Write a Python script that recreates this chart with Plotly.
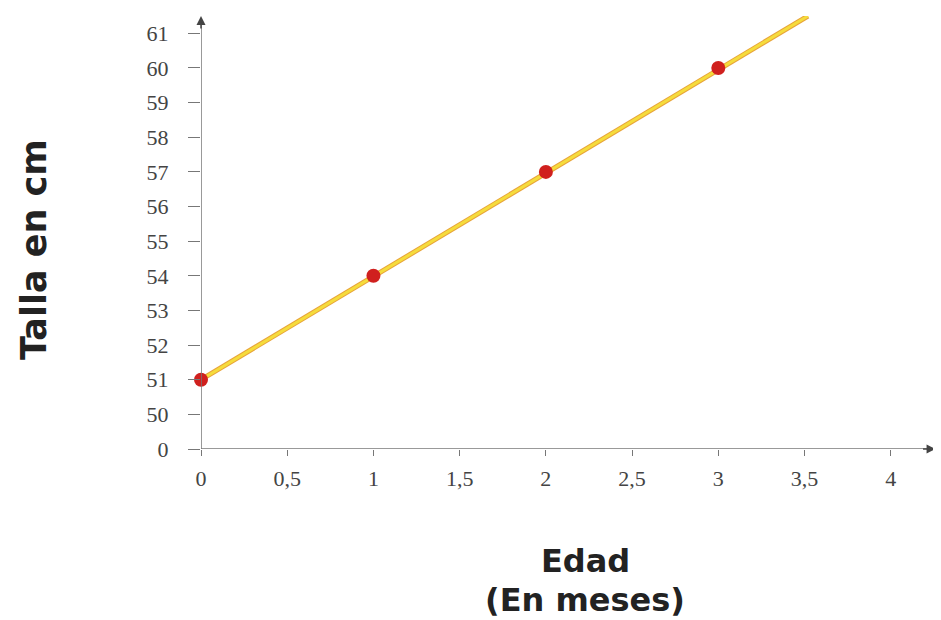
import plotly.graph_objects as go

# datos: edad (meses) y talla (cm)
edad = [0, 1, 2, 3]
talla = [51, 54, 57, 60]

# recta de ajuste
recta_x = [0, 3.52]
recta_y = [51, 61.5]

x_ticks = [0, 0.5, 1, 1.5, 2, 2.5, 3, 3.5, 4]
x_labels = ["0", "0,5", "1", "1,5", "2", "2,5", "3", "3,5", "4"]
y_labels = ["0", "50", "51", "52", "53", "54", "55", "56", "57", "58", "59", "60", "61"]

# eje Y cortado: 0 y luego 50..61 -> posicion = talla - 49
def pos(v):
    return [t - 49 for t in v]

fig = go.Figure()

fig.add_trace(go.Scatter(
    x=recta_x, y=pos(recta_y), mode="lines", cliponaxis=False,
    line=dict(color="#E8A33A", width=5), hoverinfo="skip"
))
fig.add_trace(go.Scatter(
    x=recta_x, y=pos(recta_y), mode="lines", cliponaxis=False,
    line=dict(color="#F5DC3C", width=3)
))
fig.add_trace(go.Scatter(
    x=edad, y=pos(talla), mode="markers", cliponaxis=False,
    marker=dict(color="#D0201E", size=14, line=dict(width=0))
))

# la pagina tiene 8px de margen en el body
fig.update_layout(
    width=933, height=612,
    margin=dict(l=193, r=2, t=8, b=171, autoexpand=False),
    paper_bgcolor="white", plot_bgcolor="white",
    showlegend=False,
    xaxis=dict(
        range=[0, 4.28], tickvals=x_ticks, ticktext=x_labels,
        showgrid=False, zeroline=False, showline=False, automargin=False,
        ticks="outside", ticklen=6, tickcolor="#777", ticklabelstandoff=4,
        tickfont=dict(family="Liberation Serif", size=22, color="#444"),
    ),
    yaxis=dict(
        range=[0, 12.5], tickvals=list(range(13)), ticktext=y_labels,
        showgrid=False, zeroline=False, showline=False, automargin=False,
        ticks="outside", ticklen=12, tickcolor="#777", ticklabelstandoff=15,
        tickfont=dict(family="Liberation Serif", size=22, color="#444"),
    ),
)

# ejes con flechas
fig.add_shape(type="line", xref="x", yref="y", x0=-0.065, x1=4.22, y0=0, y1=0,
              line=dict(color="#777", width=1.5))
fig.add_shape(type="line", xref="x", yref="y", x0=0, x1=0, y0=-0.2, y1=12.4,
              line=dict(color="#777", width=1.5))
fig.add_annotation(x=4.26, y=0, ax=-14, ay=0, xref="x", yref="y", text="",
                   showarrow=True, arrowhead=2, arrowsize=1.2, arrowwidth=1.5,
                   arrowcolor="#444")
fig.add_annotation(x=0, y=12.5, ax=0, ay=14, xref="x", yref="y", text="",
                   showarrow=True, arrowhead=2, arrowsize=1.2, arrowwidth=1.5,
                   arrowcolor="#444")

# titulos
fig.add_annotation(
    text="<b>Talla en cm</b>", textangle=-90,
    xref="paper", yref="paper", x=(34 - 201) / 738, y=(449 - 250) / 433,
    xanchor="center", yanchor="middle", showarrow=False,
    font=dict(family="DejaVu Sans", size=35, color="#222")
)
fig.add_annotation(
    text="<b>Edad</b>", xref="paper", yref="paper",
    x=(585 - 201) / 738, y=-(561 - 449) / 433,
    xanchor="center", yanchor="middle", showarrow=False,
    font=dict(family="DejaVu Sans", size=32, color="#222")
)
fig.add_annotation(
    text="<b>(En meses)</b>", xref="paper", yref="paper",
    x=(585 - 201) / 738, y=-(600 - 449) / 433,
    xanchor="center", yanchor="middle", showarrow=False,
    font=dict(family="DejaVu Sans", size=32, color="#222")
)

fig.write_html("out.html")
